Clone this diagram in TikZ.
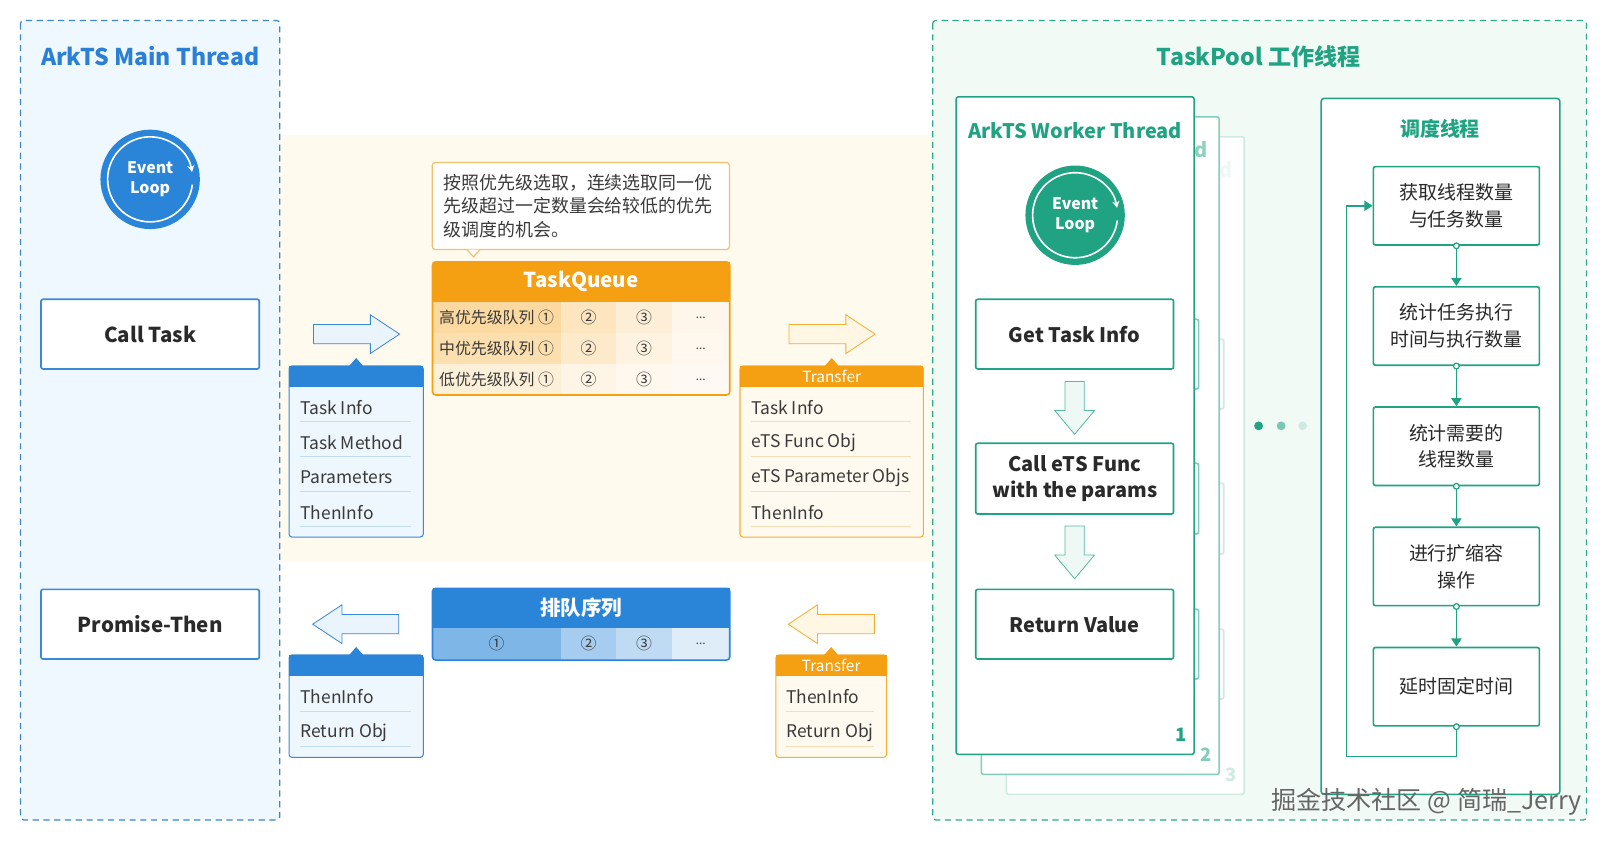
\documentclass[tikz,border=0pt]{standalone}
\usepackage{fontspec}
\setmainfont{Noto Sans CJK SC}
\usetikzlibrary{positioning,calc,shapes.arrows,arrows.meta}

\definecolor{mainblue}{HTML}{2B80D5}
\definecolor{boxblue}{HTML}{3A88D6}
\definecolor{cardblue}{HTML}{2A85D8}
\definecolor{panelblue}{HTML}{3E86C4}
\definecolor{panelbg}{HTML}{EEF8FE}
\definecolor{cardbluebg}{HTML}{EEF6FE}
\definecolor{bluesep}{HTML}{C3DCF1}
\definecolor{arrowblue}{HTML}{EAF4FD}
\definecolor{qorange}{HTML}{F4A012}
\definecolor{cardorange}{HTML}{F4AE35}
\definecolor{cardorangebg}{HTML}{FFFAEF}
\definecolor{orangesep}{HTML}{F5DFB8}
\definecolor{arrowyellow}{HTML}{FFF7E3}
\definecolor{noteline}{HTML}{F2C070}
\definecolor{bandyellow}{HTML}{FFFAEE}
\definecolor{tpgreen}{HTML}{1FA382}
\definecolor{tpdash}{HTML}{2DAA8A}
\definecolor{tpbg}{HTML}{F2FAF6}
\definecolor{arrowgreen}{HTML}{EEF8F4}
\definecolor{textdark}{HTML}{2A2A2A}
\definecolor{itemtext}{HTML}{3A3A3A}

\newcommand\qdots{{\fontsize{11.5}{12}\selectfont...}}

\tikzset{
  panel/.style={line width=1.2, dash pattern=on 6pt off 4.5pt, rounded corners=3},
  paneltitle/.style={font=\bfseries\fontsize{22.5}{26}\selectfont},
  mainbox/.style={draw=boxblue, line width=1.6, fill=white, rounded corners=2, minimum width=213, minimum height=68, text=textdark, font=\bfseries\fontsize{20}{24}\selectfont},
  evloop/.style={circle, minimum size=97, inner sep=0, text=white, align=center, font=\bfseries\fontsize{15.5}{20}\selectfont},
  ring/.style={white, line width=1.6, -{Stealth[length=6.5pt,width=7pt]}},
  cardhead/.style={minimum height=21, inner sep=0, text=white, font=\fontsize{15}{18}\selectfont},
  item/.style={anchor=west, inner sep=0, text=itemtext, font=\fontsize{17}{20}\selectfont},
  hollow/.style={single arrow, anchor=tail, line width=0.8, inner sep=9, single arrow head extend=9.5, single arrow tip angle=67, minimum height=84},
  hollowdown/.style={hollow, shape border rotate=270, draw=tpgreen!75!white, fill=arrowgreen, minimum height=51.5, single arrow head extend=10, single arrow tip angle=80},
  qhead/.style={inner sep=0, text=white, font=\bfseries\fontsize{20}{24}\selectfont},
  qcell/.style={inner sep=0, minimum height=30.3, text=itemtext, font=\fontsize{15.5}{18}\selectfont},
  workbox/.style={draw=tpgreen, line width=1.6, fill=white, rounded corners=2, minimum width=193, minimum height=68, text=textdark, align=center, font=\bfseries\fontsize{19.5}{25}\selectfont},
  sbox/.style={draw=tpgreen, line width=1.6, fill=white, rounded corners=2, minimum width=162, minimum height=76.5, text=textdark, align=center, font=\fontsize{18.5}{26}\selectfont},
  flow/.style={tpgreen, line width=1.5, -{Triangle[length=8pt,width=10pt]}},
}

\begin{document}
\begin{tikzpicture}[x=1pt,y=-1pt]
\useasboundingbox (0,0) rectangle (1566,820);
\fill[white] (0,0) rectangle (1566,820);

\fill[bandyellow] (273,132) rectangle (910,548);
\draw[panel, draw=panelblue, fill=panelbg] (20,20) rectangle (273,800);
\draw[panel, draw=tpdash, fill=tpbg] (910,20) rectangle (1548,800);

\node[paneltitle, text=mainblue] (mtitle) at (146.5,55) {ArkTS Main Thread};
\node[evloop, fill=cardblue] (mloop) at (146.5,175) {Event\\Loop};
\draw[ring] ([shift={(7:41.5)}]mloop.center) arc[start angle=7, end angle=350, radius=41.5];
\node[mainbox] (calltask) at (146.5,326) {Call Task};
\node[mainbox] (promise) at (146.5,609) {Promise-Then};

\node[hollow, draw=boxblue, fill=arrowblue] (ab1) at (305.5,326) {};
\node[hollow, draw=cardorange, fill=arrowyellow] (ao1) at (769.5,326) {};
\node[hollow, shape border rotate=180, draw=boxblue, fill=arrowblue] (ab2) at (389.5,609) {};
\node[hollow, shape border rotate=180, draw=cardorange, fill=arrowyellow] (ao2) at (853.5,609) {};

\draw[fill=cardbluebg, draw=boxblue, line width=1, rounded corners=3] (282,357) rectangle (413,524);
\node[cardhead, fill=cardblue, minimum width=131] (bc1) at (347.5,367.5) {};
\fill[cardblue] (bc1.north) ++(-7,0.5) -- ++(7,-8) -- ++(7,8) -- cycle;
\foreach \t [count=\k] in {Task Info,Task Method,Parameters,ThenInfo}{
  \node[item] (bi\k) at (293,{364+34*\k}) {\t};
  \draw[bluesep] (293,{377+34*\k}) -- (401,{377+34*\k});
}

\draw[fill=cardorangebg, draw=cardorange, line width=1, rounded corners=3] (722,357) rectangle (901,524);
\node[cardhead, fill=qorange, minimum width=179] (oc1) at (811.5,367.5) {Transfer};
\fill[qorange] (oc1.north) ++(-7,0.5) -- ++(7,-8) -- ++(7,8) -- cycle;
\foreach \t [count=\k] in {Task Info,eTS Func Obj,eTS Parameter Objs,ThenInfo}{
  \node[item] (oi\k) at (733,{364+34*\k}) {\t};
  \draw[orangesep] (733,{377+34*\k}) -- (889,{377+34*\k});
}

\draw[fill=cardbluebg, draw=boxblue, line width=1, rounded corners=3] (282,639) rectangle (413,739);
\node[cardhead, fill=cardblue, minimum width=131] (bc2) at (347.5,649.5) {};
\fill[cardblue] (bc2.north) ++(-7,0.5) -- ++(7,-8) -- ++(7,8) -- cycle;
\foreach \t [count=\k] in {ThenInfo,Return Obj}{
  \node[item] (br\k) at (293,{645+35*\k}) {\t};
  \draw[bluesep] (293,{659.5+34.5*\k}) -- (401,{659.5+34.5*\k});
}

\draw[fill=cardorangebg, draw=cardorange, line width=1, rounded corners=3] (757,639) rectangle (865,739);
\node[cardhead, fill=qorange, minimum width=108] (oc2) at (811,649.5) {Transfer};
\fill[qorange] (oc2.north) ++(-7,0.5) -- ++(7,-8) -- ++(7,8) -- cycle;
\foreach \t [count=\k] in {ThenInfo,Return Obj}{
  \node[item] (or\k) at (767,{645+35*\k}) {\t};
  \draw[orangesep] (767,{659.5+34.5*\k}) -- (853,{659.5+34.5*\k});
}

\node[draw=noteline, line width=1.2, fill=white, rounded corners=3, inner xsep=11, inner ysep=0, minimum height=85, text width=268, align=left, text=itemtext, font=\fontsize{17.5}{22.7}\selectfont] (note) at (566.75,201) {按照优先级选取，连续选取同一优\\先级超过一定数量会给较低的优先\\级调度的机会。};
\filldraw[draw=noteline, fill=white, line width=1.2] ($(note.south)+(-111.25,-0.6)$) -- ++(6.5,7) -- ++(6.5,-7);

\node[qhead, fill=qorange, minimum width=290, minimum height=39] (tq) at (567,275) {TaskQueue};
\foreach \lv/\ka/\kb/\kc/\kd [count=\i from 0] in {高/40/27/17/9,中/34/22/13/7,低/16/10/7/5}{
  \pgfmathsetmacro\ry{309.65+30.3*\i}
  \node[qcell, fill=qorange!\ka!white, minimum width=125] (qa\i) at (484.5,\ry) {\lv 优先级队列 ①};
  \node[qcell, fill=qorange!\kb!white, minimum width=54.5] (qb\i) at (574.25,\ry) {②};
  \node[qcell, fill=qorange!\kc!white, minimum width=54] (qc\i) at (628.5,\ry) {③};
  \node[qcell, fill=qorange!\kd!white, minimum width=56.5] (qd\i) at (683.75,\ry) {\qdots};
}
\draw[qorange, line width=1.5, rounded corners=3] (422,255.5) rectangle (712,385.4);

\node[qhead, fill=cardblue, minimum width=290, minimum height=38.5] (pq) at (567,593.25) {排队序列};
\foreach \t/\cx/\w/\k [count=\j] in {①/484.5/125/60,②/574.25/54.5/42,③/628.5/54/30,\qdots/683.75/56.5/15}{
  \node[qcell, fill=cardblue!\k!white, minimum width=\w, minimum height=31.5] (pc\j) at (\cx,628.25) {\t};
}
\draw[cardblue, line width=1.5, rounded corners=3] (422,574) rectangle (712,644);

\node[paneltitle, text=tpgreen] (ptitle) at (1228,55) {TaskPool 工作线程};
\foreach \n/\wpc/\tpc in {3/22/8,2/55/50}{
  \begin{scope}[shift={({24.5*(\n-1)},{19.5*(\n-1)})}]
    \colorlet{cc}{tpgreen!\wpc!white}
    \draw[cc, fill=white, line width=1.5, rounded corners=2] (933,94.5) rectangle (1165,736);
    \node[text=tpgreen!\tpc!white, font=\bfseries\fontsize{19.5}{24}\selectfont] (wt\n) at (1049,127) {ArkTS Worker Thread};
    \foreach \by/\bh [count=\m] in {326/68,467/69,609/68}
      \node[workbox, draw=cc, minimum height=\bh] (wb\n\m) at (1048.5,\by) {};
    \node[text=cc, font=\bfseries\fontsize{18}{20}\selectfont] (num\n) at (1152,717) {\n};
  \end{scope}
}
\draw[tpgreen, fill=white, line width=1.5, rounded corners=2] (933,94.5) rectangle (1165,736);
\node[text=tpgreen, font=\bfseries\fontsize{19.5}{24}\selectfont] (wt1) at (1049,127) {ArkTS Worker Thread};
\node[evloop, fill=tpgreen] (wl1) at (1049,210) {Event\\Loop};
\draw[ring] ([shift={(7:41.5)}]wl1.center) arc[start angle=7, end angle=350, radius=41.5];
\node[workbox] (get) at (1048.5,326) {Get Task Info};
\node[workbox, minimum height=69] (call) at (1048.5,467) {Call eTS Func\\with the params};
\node[workbox] (ret) at (1048.5,609) {Return Value};
\node[hollowdown] (da) at ($(get.south)+(0,11)$) {};
\node[hollowdown] (db) at ($(call.south)+(0,10.5)$) {};
\node[text=tpgreen, font=\bfseries\fontsize{18}{20}\selectfont] (num1) at (1152,717) {1};

\fill[tpgreen] (1228,415.5) circle (4.3);
\fill[tpgreen!60!white] (1250,415.5) circle (4.3);
\fill[tpgreen!22!white] (1271,415.5) circle (4.3);

\draw[tpgreen, line width=1.5, fill=white, rounded corners=3] (1289,96) rectangle (1522,775);
\node[text=tpgreen, font=\bfseries\fontsize{19.5}{24}\selectfont] (stitle) at (1405,126) {调度线程};
\foreach \t [count=\k] in {获取线程数量\\与任务数量,统计任务执行\\时间与执行数量,统计需要的\\线程数量,进行扩缩容\\操作,延时固定时间}{
  \node[sbox] (s\k) at (1421,{83.5+117.3*\k}) {\t};
}
\foreach \k in {1,...,4}{
  \pgfmathtruncatemacro\nk{\k+1}
  \draw[flow] (s\k.south) -- (s\nk.north);
}
\draw[flow] (s5.south) -- ++(0,29) -| ($(s1.west)+(-25.5,0)$) -- (s1.west);
\foreach \k in {1,...,5}
  \draw[tpgreen, line width=1.2, fill=white] (s\k.south) circle (2.8);

\node[anchor=east, text=black!60, font=\fontsize{24.5}{27}\selectfont] (wm) at (1547,782) {掘金技术社区 @ 简瑞\_Jerry};
\end{tikzpicture}
\end{document}
